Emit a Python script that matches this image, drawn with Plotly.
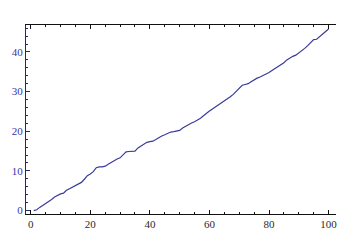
import plotly.graph_objects as go

x_vals = list(range(1, 101))
y_vals = [0.0, 0.2, 0.8, 1.3, 1.6, 2.2, 2.8, 3.4, 3.9, 4.2,
          4.4, 5.1, 5.5, 5.9, 6.2, 6.5, 7.1, 7.9, 8.8, 9.2,
          9.8, 10.8, 11.0, 11.0, 11.2, 11.7, 12.2, 12.6, 13.0, 13.3,
          14.0, 14.8, 14.9, 14.9, 15.0, 15.8, 16.3, 16.8, 17.2, 17.4,
          17.5, 17.9, 18.4, 18.8, 19.1, 19.5, 19.8, 19.9, 20.0, 20.2,
          20.8, 21.3, 21.8, 22.1, 22.4, 22.8, 23.3, 23.9, 24.6, 25.1,
          25.6, 26.1, 26.6, 27.0, 27.6, 28.2, 28.7, 29.3, 30.0, 30.9,
          31.6, 31.8, 32.0, 32.5, 33.0, 33.4, 33.7, 34.0, 34.3, 34.8,
          35.3, 35.8, 36.3, 36.6, 37.3, 38.0, 38.5, 38.9, 39.2, 39.7,
          40.3, 40.9, 41.6, 42.4, 43.1, 43.2, 43.8, 44.4, 45.0, 45.8]
x_ticks = [0, 20, 40, 60, 80, 100]
y_ticks = [0, 10, 20, 30, 40]

fig = go.Figure(go.Scatter(x=x_vals, y=y_vals, mode="lines",
                           line=dict(color="#3a3a9c", width=1.2)))

fig.update_layout(
    width=360, height=242,
    margin=dict(l=26, r=24, t=25, b=26),
    paper_bgcolor="white", plot_bgcolor="white",
    showlegend=False,
    font=dict(family="Liberation Serif", size=11),
)
fig.update_xaxes(
    range=[-1.6, 102.5], tickvals=x_ticks, showgrid=False, zeroline=False,
    showline=True, linecolor="#111111", linewidth=1, mirror="ticks",
    ticks="inside", ticklen=4, tickcolor="#111111",
    tickfont=dict(color="#2a2a2a", size=11, family="Liberation Serif"),
    minor=dict(dtick=5, tick0=0, ticks="inside", ticklen=2, tickcolor="#111111", showgrid=False),
)
fig.update_yaxes(
    range=[-0.87, 46.8], tickvals=y_ticks, showgrid=False, zeroline=False,
    showline=True, linecolor="#262670", linewidth=1,
    ticks="inside", ticklen=4, tickcolor="#262670",
    tickfont=dict(color="#3535a8", size=11, family="Liberation Serif"),
    minor=dict(dtick=2, tick0=0, ticks="inside", ticklen=2, tickcolor="#262670", showgrid=False),
)

fig.write_html("out.html")
